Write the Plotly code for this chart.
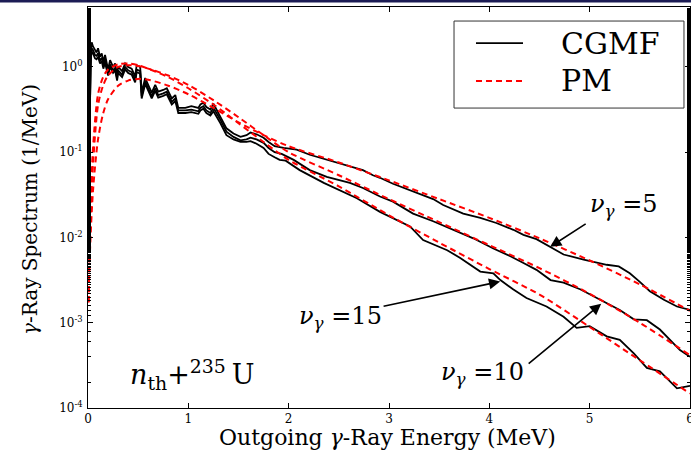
import numpy as np
import plotly.graph_objects as go

# ---------------- data (log10 of spectrum, 1/MeV) ----------------
E_low = [0.004, 0.012, 0.02, 0.03, 0.037, 0.05, 0.07, 0.085, 0.10, 0.12, 0.137, 0.153, 0.17, 0.20, 0.22,
         0.25, 0.27, 0.29, 0.30, 0.34, 0.37, 0.40, 0.435, 0.47, 0.485, 0.52, 0.535, 0.57, 0.60, 0.635,
         0.67, 0.70, 0.75, 0.785, 0.835, 0.87, 0.90, 0.97, 1.03, 1.10, 1.12, 1.15, 1.18, 1.22, 1.25,
         1.32, 1.38, 1.45, 1.52, 1.58, 1.62, 1.68, 1.75, 1.80, 1.86]
cgmf5_low = [-1.40, -0.80, -0.10, 0.20, 0.29, 0.24, 0.20, 0.17, 0.22, 0.12, 0.16, 0.06, 0.14, -0.03, 0.08,
             0.00, 0.04, -0.09, 0.00, -0.05, 0.04, 0.00, -0.02, -0.11, 0.02, 0.00, -0.30, -0.13, -0.21, -0.30,
             -0.21, -0.29, -0.27, -0.25, -0.37, -0.33, -0.48, -0.48, -0.46, -0.48, -0.44, -0.42, -0.47, -0.50, -0.43,
             -0.58, -0.72, -0.78, -0.82, -0.80, -0.77, -0.79, -0.83, -0.88, -0.93]
cgmf10_low = [-1.35, -0.75, -0.05, 0.15, 0.22, 0.20, 0.14, 0.13, 0.16, 0.07, 0.11, 0.02, 0.09, -0.07, 0.03,
              -0.04, -0.01, -0.13, -0.04, -0.09, 0.00, -0.04, -0.06, -0.15, -0.03, -0.05, -0.34, -0.17, -0.25, -0.34,
              -0.25, -0.33, -0.31, -0.29, -0.41, -0.37, -0.51, -0.51, -0.50, -0.52, -0.48, -0.46, -0.51, -0.54, -0.48,
              -0.62, -0.76, -0.82, -0.86, -0.85, -0.83, -0.85, -0.89, -0.95, -1.00]
cgmf15_low = [-1.30, -0.70, 0.00, 0.12, 0.18, 0.16, 0.10, 0.09, 0.12, 0.04, 0.07, -0.02, 0.05, -0.10, 0.00,
              -0.07, -0.04, -0.16, -0.07, -0.12, -0.03, -0.07, -0.09, -0.18, -0.06, -0.08, -0.37, -0.20, -0.28, -0.37,
              -0.28, -0.36, -0.34, -0.32, -0.44, -0.40, -0.54, -0.54, -0.53, -0.55, -0.51, -0.49, -0.54, -0.57, -0.52,
              -0.66, -0.80, -0.85, -0.88, -0.88, -0.87, -0.90, -0.95, -1.02, -1.06]

E_hi_5 = [1.95, 2.08, 2.21, 2.38, 2.55, 2.74, 2.84, 2.91, 3.04, 3.11, 3.24, 3.44, 3.54, 3.74, 3.91,
          4.07, 4.24, 4.34, 4.47, 4.61, 4.74, 4.94, 5.17, 5.29, 5.40, 5.50, 5.60, 5.74, 5.87, 6.0]
cgmf5_hi = [-0.95, -0.97, -1.03, -1.09, -1.15, -1.21, -1.27, -1.30, -1.37, -1.40, -1.46, -1.55, -1.62, -1.72, -1.77,
            -1.83, -1.91, -1.97, -2.02, -2.11, -2.20, -2.26, -2.32, -2.34, -2.42, -2.52, -2.63, -2.73, -2.81, -2.85]
E_hi_10 = [1.93, 2.05, 2.21, 2.38, 2.61, 2.74, 2.91, 3.04, 3.24, 3.44, 3.64, 3.84, 4.04, 4.21, 4.34,
           4.47, 4.61, 4.74, 4.91, 5.07, 5.20, 5.30, 5.44, 5.57, 5.70, 5.80, 5.90, 6.0]
cgmf10_hi = [-1.02, -1.09, -1.21, -1.29, -1.36, -1.42, -1.52, -1.58, -1.72, -1.81, -1.91, -2.01, -2.13, -2.22, -2.30,
             -2.38, -2.50, -2.53, -2.61, -2.71, -2.79, -2.85, -2.96, -2.97, -3.08, -3.20, -3.32, -3.40]
E_hi_15 = [1.91, 1.97, 2.11, 2.35, 2.50, 2.68, 2.91, 3.04, 3.21, 3.34, 3.58, 3.71, 3.91, 4.04, 4.11,
           4.24, 4.37, 4.57, 4.74, 4.87, 5.00, 5.17, 5.30, 5.44, 5.57, 5.70, 5.87, 6.0]
cgmf15_hi = [-1.09, -1.10, -1.21, -1.36, -1.44, -1.54, -1.70, -1.77, -1.87, -2.03, -2.15, -2.24, -2.40, -2.42, -2.50,
             -2.61, -2.71, -2.81, -2.93, -3.06, -3.04, -3.16, -3.20, -3.36, -3.53, -3.57, -3.77, -3.74]

E_pm = [0.005, 0.02, 0.05, 0.1, 0.15, 0.2, 0.3, 0.4, 0.5, 0.6, 0.8, 1.0, 1.25, 1.5, 1.75, 2.0,
        2.5, 3.0, 3.5, 4.0, 4.5, 5.0, 5.5, 6.0]
pm5 = [-2.76, -2.15, -1.45, -0.85, -0.55, -0.38, -0.22, -0.16, -0.14, -0.15, -0.22, -0.32, -0.48, -0.65, -0.80, -0.93,
       -1.12, -1.33, -1.55, -1.77, -2.01, -2.27, -2.55, -2.86]
pm10 = [-2.76, -1.95, -1.15, -0.45, -0.22, -0.10, 0.00, 0.02, 0.01, -0.02, -0.10, -0.21, -0.39, -0.59, -0.80, -1.00,
        -1.27, -1.55, -1.82, -2.09, -2.36, -2.66, -3.00, -3.38]
pm15 = [-2.76, -1.80, -0.95, -0.32, -0.12, -0.03, 0.03, 0.04, 0.02, -0.02, -0.12, -0.25, -0.44, -0.66, -0.88, -1.09,
        -1.40, -1.74, -2.06, -2.37, -2.67, -3.05, -3.44, -3.83]

x_ticks = [0, 1, 2, 3, 4, 5, 6]
y_tickvals = [1e-4, 1e-3, 1e-2, 1e-1, 1e0]
y_ticktext = ["10<sup>-4</sup>", "10<sup>-3</sup>", "10<sup>-2</sup>", "10<sup>-1</sup>", "10<sup>0</sup>"]

FONT = "DejaVu Serif"

fig = go.Figure()
for lowv, Eh, hiv in [(cgmf5_low, E_hi_5, cgmf5_hi), (cgmf10_low, E_hi_10, cgmf10_hi), (cgmf15_low, E_hi_15, cgmf15_hi)]:
    xs = E_low + Eh
    ys = 10 ** np.array(lowv + hiv)
    fig.add_trace(go.Scatter(x=xs, y=ys, mode="lines", line=dict(color="black", width=1.8),
                             showlegend=False, hoverinfo="skip"))
for pm in [pm5, pm10, pm15]:
    fig.add_trace(go.Scatter(x=E_pm, y=10 ** np.array(pm), mode="lines",
                             line=dict(color="red", width=2, dash="6px,4px", shape="spline", smoothing=0.8),
                             showlegend=False, hoverinfo="skip"))

axis_common = dict(showline=True, linecolor="black", linewidth=1, mirror="ticks", ticks="inside",
                   tickcolor="black", showgrid=False, zeroline=False, automargin=False,
                   tickfont=dict(family=FONT, size=12, color="black"))
fig.update_xaxes(range=[0, 6], tickvals=x_ticks, ticklen=5, ticklabeloverflow="allow", **axis_common)
fig.update_yaxes(type="log", range=[-4, 0.703], tickvals=y_tickvals, ticktext=y_ticktext, ticklen=5,
                 ticklabelstandoff=2,
                 minor=dict(ticks="inside", ticklen=3, tickcolor="black", showgrid=False),
                 **axis_common)

# legend drawn as a box
shapes = [
    dict(type="rect", xref="paper", yref="paper", x0=0.608, x1=0.990, y0=0.748, y1=0.965,
         line=dict(color="#333333", width=1), fillcolor="white", layer="above"),
    dict(type="line", xref="paper", yref="paper", x0=0.6445, x1=0.7226, y0=0.910, y1=0.910,
         line=dict(color="black", width=1.8), layer="above"),
    dict(type="line", xref="paper", yref="paper", x0=0.6445, x1=0.7226, y0=0.8155, y1=0.8155,
         line=dict(color="red", width=2, dash="6px,4px"), layer="above"),
    dict(type="rect", xref="paper", yref="paper", x0=-0.2, x1=1.01, y0=1.0112, y1=1.0175,
         line=dict(width=0), fillcolor="#1c1c55", layer="above"),
]
annotations = [
    # axis titles
    dict(xref="paper", yref="paper", x=0.4983, y=-0.0736, text="Outgoing <i>γ</i>-Ray Energy (MeV)",
         showarrow=False, xanchor="center", yanchor="middle", font=dict(family=FONT, size=22, color="black")),
    dict(xref="paper", yref="paper", x=-0.0963, y=0.4938, text="<i>γ</i>-Ray Spectrum (1/MeV)", textangle=-90,
         showarrow=False, xanchor="center", yanchor="middle", font=dict(family=FONT, size=20, color="black")),
    # legend texts
    dict(xref="paper", yref="paper", x=0.7824, y=0.910, text="CGMF", showarrow=False, xanchor="left",
         yanchor="middle", font=dict(family=FONT, size=30, color="black")),
    dict(xref="paper", yref="paper", x=0.7824, y=0.8155, text="PM", showarrow=False, xanchor="left",
         yanchor="middle", font=dict(family=FONT, size=30, color="black")),
    # reaction label
    dict(x=0.4, y=-3.61, xref="x", yref="y", text="<i>n</i><sub>th</sub>+<sup>235 </sup>U", showarrow=False,
         xanchor="left", yanchor="middle", font=dict(family=FONT, size=27, color="black")),
    # nu labels
    dict(x=5.343, y=-1.63, xref="x", yref="y", text="<i>ν</i><sub><i>γ</i></sub> =5", showarrow=False,
         font=dict(family=FONT, size=24, color="black")),
    dict(x=2.512, y=-2.94, xref="x", yref="y", text="<i>ν</i><sub><i>γ</i></sub> =15", showarrow=False,
         font=dict(family=FONT, size=24, color="black")),
    dict(x=3.93, y=-3.59, xref="x", yref="y", text="<i>ν</i><sub><i>γ</i></sub> =10", showarrow=False,
         font=dict(family=FONT, size=24, color="black")),
]
for (hx, hy, tx, ty) in [(4.606, -2.110, 4.975, -1.829), (4.108, -2.517, 2.931, -2.810), (5.115, -2.778, 4.377, -3.494)]:
    annotations.append(dict(x=hx, y=hy, ax=tx, ay=ty, xref="x", yref="y", axref="x", ayref="y", text="",
                            showarrow=True, arrowhead=2, arrowsize=1.4, arrowwidth=1.6, arrowcolor="black"))

fig.update_layout(width=691, height=450, margin=dict(l=88, r=1, t=7, b=42),
                  paper_bgcolor="white", plot_bgcolor="white", showlegend=False,
                  shapes=shapes, annotations=annotations)
fig.write_html("out.html")
